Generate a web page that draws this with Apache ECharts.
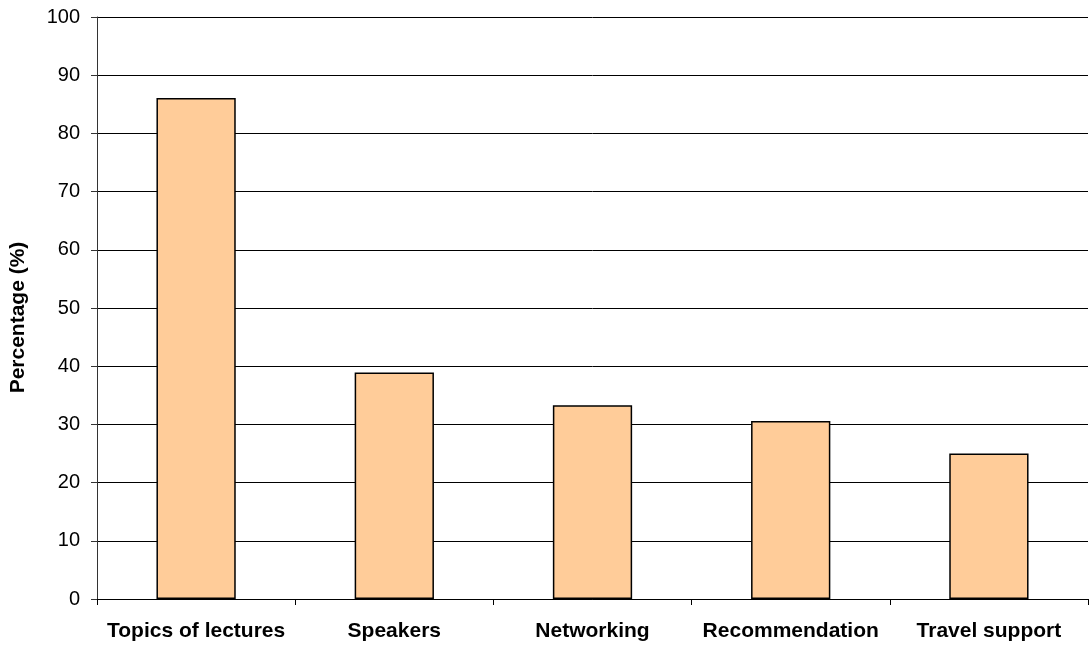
<!DOCTYPE html>
<html><head><meta charset="utf-8">
<script src="https://cdn.jsdelivr.net/npm/echarts@6/dist/echarts.min.js"></script>
<style>html,body{margin:0;padding:0;background:#fff}#c{width:1091px;height:646px}</style>
</head><body><div id="c"></div>
<script>
const categories = ["Topics of lectures", "Speakers", "Networking", "Recommendation", "Travel support"];
const values = [86.1, 38.9, 33.3, 30.6, 25.0];
const yTicks = { min: 0, max: 100, interval: 10 };

const chart = echarts.init(document.getElementById('c'));
chart.setOption({
  animation: false,
  grid: { left: 97, right: 3, top: 17, bottom: 47 },
  xAxis: {
    type: 'category', data: categories,
    axisLine: { lineStyle: { color: '#000', width: 1 } },
    axisTick: { show: true, interval: 0, alignWithLabel: false, length: 6, lineStyle: { color: '#000' } },
    axisLabel: { interval: 0, color: '#000', fontFamily: 'Liberation Sans', fontWeight: 'bold', fontSize: 21, margin: 22 }
  },
  yAxis: {
    type: 'value', min: yTicks.min, max: yTicks.max, interval: yTicks.interval,
    name: 'Percentage (%)', nameLocation: 'middle', nameGap: 68, nameRotate: 90,
    nameTextStyle: { color: '#000', fontFamily: 'Liberation Sans', fontWeight: 'bold', fontSize: 21, padding: [0, 19, 0, 0] },
    axisLine: { show: true, lineStyle: { color: '#333', width: 1 } },
    axisTick: { show: true, length: 6, lineStyle: { color: '#333' } },
    axisLabel: { color: '#000', fontFamily: 'Liberation Sans', fontSize: 20, margin: 17 },
    splitLine: { show: true, lineStyle: { color: '#000', width: 1 } }
  },
  series: [{
    type: 'bar', data: values, barWidth: '40%',
    itemStyle: { color: '#FFCC99', borderColor: '#000', borderWidth: 1.5 }
  }]
});
</script></body></html>
